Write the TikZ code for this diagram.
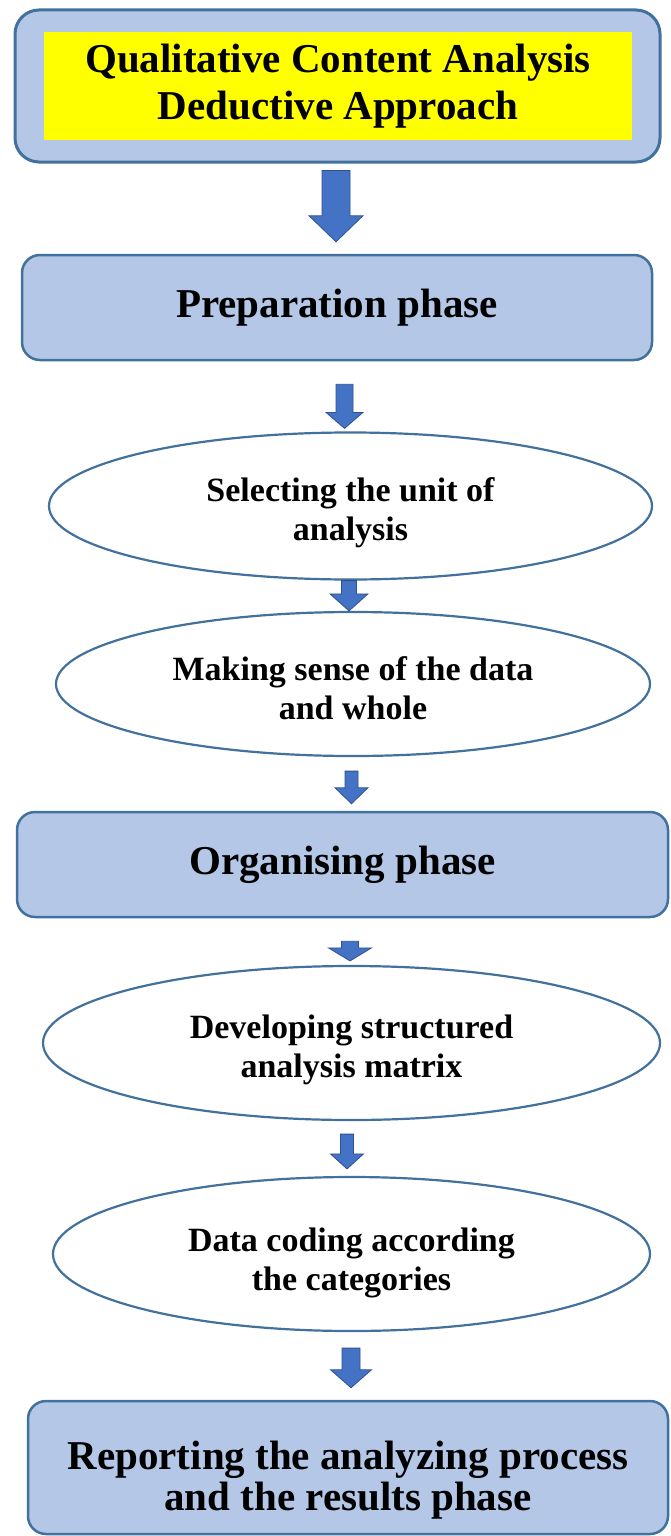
\documentclass[tikz,border=0pt]{standalone}
\usepackage{fontspec}
\setmainfont{Liberation Serif}
\usetikzlibrary{shapes.geometric,calc}

\definecolor{boxfill}{HTML}{B4C7E7}
\definecolor{boxline}{HTML}{41719C}
\definecolor{arrowfill}{HTML}{4472C4}
\definecolor{arrowline}{HTML}{2F528F}
\definecolor{hilite}{HTML}{FFFF00}

% Block arrow from the bottom of node #1 to the top of node #2.
% #3 axis x, #4 gap below #1, #5 gap above #2,
% #6 half shaft width, #7 half head width, #8 head length
\newcommand\stepconnector[8]{%
  \coordinate (#1-top) at ($(#1.south)+(0,#4)$);
  \coordinate (#1-tip) at ($(#2.north)+(0,-#5)$);
  \coordinate (#1-neck) at ($(#1-tip)+(0,-#8)$);
  \path[flowarrow]
    (#3-#6,0 |- #1-top) -- (#3+#6,0 |- #1-top) -- (#3+#6,0 |- #1-neck)
    -- (#3+#7,0 |- #1-neck) -- (#3,0 |- #1-tip) -- (#3-#7,0 |- #1-neck)
    -- (#3-#6,0 |- #1-neck) -- cycle;}

% invisible strut that lowers a text block inside its shape
\newcommand\lowerstrut[1]{\rule{0pt}{#1}}

\begin{document}
\begin{tikzpicture}[x=1pt,y=-1pt,
  phasebox/.style={draw=boxline, fill=boxfill, line width=2.5pt,
    rounded corners=18pt, inner sep=0pt, align=center,
    font=\bfseries\fontsize{41}{47}\selectfont},
  stepoval/.style={ellipse, draw=boxline, fill=white, line width=2.2pt,
    inner sep=0pt, align=center, font=\bfseries\fontsize{34}{39}\selectfont},
  flowarrow/.style={fill=arrowfill, draw=arrowline, line width=0.8pt,
    line join=miter}]

\useasboundingbox (0,0) rectangle (670,1536);
\fill[white] (0,0) rectangle (670,1536);

% title frame with highlighted heading
\node[phasebox, line width=3pt, rounded corners=24pt,
      minimum width=645pt, minimum height=152pt] (frame) at (337.5,86) {};
\node[fill=hilite, minimum width=588pt, minimum height=108pt, inner sep=0pt,
      align=center, font=\bfseries\fontsize{41}{47}\selectfont]
      (title) at (338,86) {Qualitative Content Analysis\\Deductive Approach};

% phases and steps
\node[phasebox, minimum width=630pt, minimum height=105pt]
      (prep) at (337,307.5) {Preparation phase};
\node[stepoval, minimum width=603pt, minimum height=147pt]
      (unit) at (350.5,506) {\lowerstrut{38pt}Selecting the unit of\\analysis};
\node[stepoval, minimum width=594pt, minimum height=144pt]
      (sense) at (353,684) {\lowerstrut{32pt}Making sense of the data\\and whole};
\node[phasebox, minimum width=651pt, minimum height=105pt]
      (org) at (342.5,864.5) {Organising phase};
\node[stepoval, minimum width=617pt, minimum height=154pt]
      (matrix) at (351.5,1043) {\lowerstrut{38pt}Developing structured\\analysis matrix};
\node[stepoval, minimum width=597pt, minimum height=154pt]
      (coding) at (351.5,1254) {\lowerstrut{42pt}Data coding according\\the categories};
\node[phasebox, minimum width=640pt, minimum height=133pt,
      font=\bfseries\fontsize{41}{41}\selectfont]
      (report) at (348,1467.5) {\lowerstrut{54pt}Reporting the analyzing process\\and the results phase};

% connectors
\stepconnector{frame}{prep}{336}{7}{12}{14}{27}{26}
\stepconnector{prep}{unit}{344.5}{23}{3}{8.5}{18.5}{16}
\stepconnector{unit}{sense}{349}{0}{0}{7.5}{19}{17}
\stepconnector{sense}{org}{351.5}{14}{7}{6.5}{16.5}{16}
\stepconnector{org}{matrix}{350}{23}{4}{8.5}{21.5}{13}
\stepconnector{matrix}{coding}{347}{13}{7}{6.5}{16.5}{15}
\stepconnector{coding}{report}{351}{16}{12}{9}{20.5}{18}
\end{tikzpicture}
\end{document}
